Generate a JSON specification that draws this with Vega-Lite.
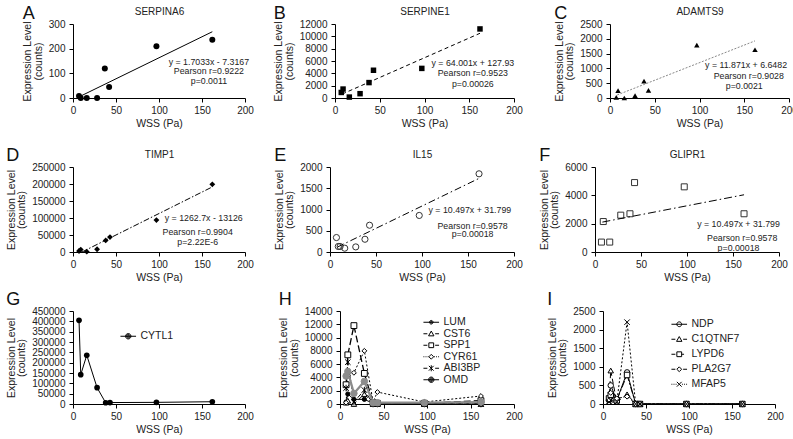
{
"$schema": "https://vega.github.io/schema/vega-lite/v6.json",
"padding": {"left": 6, "top": 5, "right": 2, "bottom": 2},
"config": {
 "font": "Liberation Sans",
 "view": {"stroke": null},
 "axis": {"grid": false, "domainColor": "#000", "tickColor": "#000", "labelColor": "#222", "titleColor": "#222", "labelFontSize": 10, "titleFontSize": 10.5, "titleFontWeight": "normal", "tickSize": 4, "labelPadding": 3, "labelFlush": false, "labelOverlap": false, "domainWidth": 1, "tickWidth": 1},
 "axisY": {"minExtent": 0, "titlePadding": 5, "titleLineHeight": 10.5, "labelPadding": 4},
 "axisX": {"titlePadding": 3},
 "title": {"fontSize": 18, "fontWeight": "normal", "anchor": "start", "frame": "bounds", "color": "#111"},
 "text": {"fontSize": 8.8, "color": "#222"},
 "legend": {"symbolStrokeWidth": 1, "symbolOpacity": 1}
},
"columns": 1,
"align": "none",
"spacing": 18,
"resolve": {"scale": {"shape": "independent"}, "legend": {"shape": "independent"}},
"concat": [
 {"hconcat": [
  {"width": 172, "height": 74, "title": {"text": "A", "offset": -17},
   "layer": [
    {"data": {"values": [{"wss":7,"expr":8},{"wss":9,"expr":0},{"wss":16,"expr":0},{"wss":28,"expr":0},{"wss":37,"expr":120},{"wss":42,"expr":45},{"wss":97,"expr":210},{"wss":162,"expr":236}]},
     "mark": {"type": "point", "shape": "circle", "filled": true, "color": "#000", "size": 36, "opacity": 1},
     "encoding": {"x": {"field":"wss","type":"quantitative","scale":{"domain":[0,200],"nice":false},"axis":{"values":[0,50,100,150,200],"title":"WSS (Pa)"}},
                  "y": {"field":"expr","type":"quantitative","scale":{"domain":[0,300],"nice":false},"axis":{"minExtent":0,"values":[0,100,200,300],"format":"d","title":["Expression Level","(counts)"]}}}},
    {"data": {"values": [{"wss":8,"expr":6.3},{"wss":162,"expr":268.6}]},
     "mark": {"type": "line", "color": "#000", "strokeWidth": 1},
     "encoding": {"x": {"field":"wss","type":"quantitative","scale":{"domain":[0,200],"nice":false},"axis":null},
                  "y": {"field":"expr","type":"quantitative","scale":{"domain":[0,300],"nice":false},"axis":{"minExtent":0,"values":[0,100,200,300],"format":"d","title":["Expression Level","(counts)"]}}}},
    {"data": {"values": [{"wss":158,"expr":147,"label":"y = 1.7033x - 7.3167"},{"wss":158,"expr":109,"label":"Pearson r=0.9222"},{"wss":158,"expr":69,"label":"p=0.0011"}]},
     "mark": {"type": "text"},
     "encoding": {"x": {"field":"wss","type":"quantitative","scale":{"domain":[0,200],"nice":false},"axis":{"orient":"top","title":"SERPINA6","labels":false,"ticks":false,"domain":false,"titlePadding":8,"titleFontSize":10}},
                  "y": {"field":"expr","type":"quantitative","scale":{"domain":[0,300],"nice":false},"axis":{"minExtent":0,"values":[0,100,200,300],"format":"d","title":["Expression Level","(counts)"]}},
                  "text": {"field":"label"}}}
   ],
   "resolve": {"axis": {"x": "independent"}}},
  {"hconcat": [
   {"width": 179, "height": 74, "title": {"text": "B", "offset": -17},
    "layer": [
     {"data": {"values": [{"wss":7,"expr":900},{"wss":9,"expr":1450},{"wss":16,"expr":150},{"wss":28,"expr":700},{"wss":38,"expr":2500},{"wss":43,"expr":4500},{"wss":97,"expr":4800},{"wss":162,"expr":11200}]},
      "mark": {"type": "point", "shape": "square", "filled": true, "color": "#000", "size": 30, "opacity": 1},
      "encoding": {"x": {"field":"wss","type":"quantitative","scale":{"domain":[0,200],"nice":false},"axis":{"values":[0,50,100,150,200],"title":"WSS (Pa)"}},
                   "y": {"field":"expr","type":"quantitative","scale":{"domain":[0,12000],"nice":false},"axis":{"minExtent":0,"values":[0,2000,4000,6000,8000,10000,12000],"format":"d","title":["Expression Level","(counts)"]}}}},
     {"data": {"values": [{"wss":8,"expr":640},{"wss":162,"expr":10496}]},
      "mark": {"type": "line", "color": "#000", "strokeWidth": 1, "strokeDash": [4,3]},
      "encoding": {"x": {"field":"wss","type":"quantitative","scale":{"domain":[0,200],"nice":false},"axis":null},
                   "y": {"field":"expr","type":"quantitative","scale":{"domain":[0,12000],"nice":false},"axis":{"minExtent":0,"values":[0,2000,4000,6000,8000,10000,12000],"format":"d","title":["Expression Level","(counts)"]}}}},
     {"data": {"values": [{"wss":154,"expr":5610,"label":"y = 64.001x + 127.93"},{"wss":154,"expr":4050,"label":"Pearson r=0.9523"},{"wss":154,"expr":2340,"label":"p=0.00026"}]},
      "mark": {"type": "text"},
      "encoding": {"x": {"field":"wss","type":"quantitative","scale":{"domain":[0,200],"nice":false},"axis":{"orient":"top","title":"SERPINE1","labels":false,"ticks":false,"domain":false,"titlePadding":8,"titleFontSize":10}},
                   "y": {"field":"expr","type":"quantitative","scale":{"domain":[0,12000],"nice":false},"axis":{"minExtent":0,"values":[0,2000,4000,6000,8000,10000,12000],"format":"d","title":["Expression Level","(counts)"]}},
                   "text": {"field":"label"}}}
    ],
    "resolve": {"axis": {"x": "independent"}}},
   {"width": 179, "height": 74, "title": {"text": "C", "offset": -17},
    "layer": [
     {"data": {"values": [{"wss":7,"expr":20},{"wss":9,"expr":250},{"wss":16,"expr":0},{"wss":28,"expr":80},{"wss":38,"expr":570},{"wss":43,"expr":260},{"wss":97,"expr":1790},{"wss":162,"expr":1630}]},
      "mark": {"type": "point", "shape": "triangle-up", "filled": true, "color": "#000", "size": 30, "opacity": 1},
      "encoding": {"x": {"field":"wss","type":"quantitative","scale":{"domain":[0,200],"nice":false},"axis":{"values":[0,50,100,150,200],"title":"WSS (Pa)"}},
                   "y": {"field":"expr","type":"quantitative","scale":{"domain":[0,2500],"nice":false},"axis":{"minExtent":0,"values":[0,500,1000,1500,2000,2500],"format":"d","title":["Expression Level","(counts)"]}}}},
     {"data": {"values": [{"wss":8,"expr":101.6},{"wss":162,"expr":1929.7}]},
      "mark": {"type": "line", "color": "#888", "strokeWidth": 1, "strokeDash": [2,1.5]},
      "encoding": {"x": {"field":"wss","type":"quantitative","scale":{"domain":[0,200],"nice":false},"axis":null},
                   "y": {"field":"expr","type":"quantitative","scale":{"domain":[0,2500],"nice":false},"axis":{"minExtent":0,"values":[0,500,1000,1500,2000,2500],"format":"d","title":["Expression Level","(counts)"]}}}},
     {"data": {"values": [{"wss":152,"expr":1118,"label":"y = 11.871x + 6.6482"},{"wss":155,"expr":734,"label":"Pearson r=0.9028"},{"wss":150,"expr":395,"label":"p=0.0021"}]},
      "mark": {"type": "text"},
      "encoding": {"x": {"field":"wss","type":"quantitative","scale":{"domain":[0,200],"nice":false},"axis":{"orient":"top","title":"ADAMTS9","labels":false,"ticks":false,"domain":false,"titlePadding":8,"titleFontSize":10}},
                   "y": {"field":"expr","type":"quantitative","scale":{"domain":[0,2500],"nice":false},"axis":{"minExtent":0,"values":[0,500,1000,1500,2000,2500],"format":"d","title":["Expression Level","(counts)"]}},
                   "text": {"field":"label"}}}
    ],
    "resolve": {"axis": {"x": "independent"}}}
  ], "spacing": 31}
 ], "spacing": 19},
 {"resolve": {"scale": {"shape": "independent"}, "legend": {"shape": "independent"}},
  "vconcat": [
  {"hconcat": [
   {"width": 172, "height": 85, "title": {"text": "D", "offset": -16},
    "layer": [
     {"data": {"values": [{"wss":7,"expr":3000},{"wss":9,"expr":7000},{"wss":16,"expr":1000},{"wss":28,"expr":8000},{"wss":38,"expr":34000},{"wss":43,"expr":44000},{"wss":97,"expr":94000},{"wss":162,"expr":199000}]},
      "mark": {"type": "point", "shape": "diamond", "filled": true, "color": "#000", "size": 34, "opacity": 1},
      "encoding": {"x": {"field":"wss","type":"quantitative","scale":{"domain":[0,200],"nice":false},"axis":{"values":[0,50,100,150,200],"title":"WSS (Pa)"}},
                   "y": {"field":"expr","type":"quantitative","scale":{"domain":[0,250000],"nice":false},"axis":{"minExtent":0,"values":[0,50000,100000,150000,200000,250000],"format":"d","title":["Expression Level","(counts)"]}}}},
     {"data": {"values": [{"wss":10.4,"expr":0},{"wss":162,"expr":191431}]},
      "mark": {"type": "line", "color": "#000", "strokeWidth": 1, "strokeDash": [6,2,1.5,2]},
      "encoding": {"x": {"field":"wss","type":"quantitative","scale":{"domain":[0,200],"nice":false},"axis":null},
                   "y": {"field":"expr","type":"quantitative","scale":{"domain":[0,250000],"nice":false},"axis":{"minExtent":0,"values":[0,50000,100000,150000,200000,250000],"format":"d","title":["Expression Level","(counts)"]}}}},
     {"data": {"values": [{"wss":152,"expr":100000,"label":"y = 1262.7x - 13126"},{"wss":145,"expr":58800,"label":"Pearson r=0.9904"},{"wss":145,"expr":29400,"label":"p=2.22E-6"}]},
      "mark": {"type": "text"},
      "encoding": {"x": {"field":"wss","type":"quantitative","scale":{"domain":[0,200],"nice":false},"axis":{"orient":"top","title":"TIMP1","labels":false,"ticks":false,"domain":false,"titlePadding":8,"titleFontSize":10}},
                   "y": {"field":"expr","type":"quantitative","scale":{"domain":[0,250000],"nice":false},"axis":{"minExtent":0,"values":[0,50000,100000,150000,200000,250000],"format":"d","title":["Expression Level","(counts)"]}},
                   "text": {"field":"label"}}}
    ],
    "resolve": {"axis": {"x": "independent"}}},
   {"hconcat": [
    {"width": 184, "height": 85, "title": {"text": "E", "offset": -16},
     "layer": [
      {"data": {"values": [{"wss":7,"expr":340},{"wss":9,"expr":130},{"wss":11,"expr":130},{"wss":16,"expr":90},{"wss":28,"expr":120},{"wss":38,"expr":300},{"wss":43,"expr":630},{"wss":97,"expr":860},{"wss":162,"expr":1840}]},
       "mark": {"type": "point", "shape": "circle", "filled": false, "color": "#333", "size": 38, "opacity": 1, "strokeWidth": 1},
       "encoding": {"x": {"field":"wss","type":"quantitative","scale":{"domain":[0,200],"nice":false},"axis":{"values":[0,50,100,150,200],"title":"WSS (Pa)"}},
                    "y": {"field":"expr","type":"quantitative","scale":{"domain":[0,2000],"nice":false},"axis":{"minExtent":0,"values":[0,500,1000,1500,2000],"format":"d","title":["Expression Level","(counts)"]}}}},
      {"data": {"values": [{"wss":8,"expr":115.8},{"wss":162,"expr":1732.3}]},
       "mark": {"type": "line", "color": "#000", "strokeWidth": 1, "strokeDash": [7,3,1.5,3]},
       "encoding": {"x": {"field":"wss","type":"quantitative","scale":{"domain":[0,200],"nice":false},"axis":null},
                    "y": {"field":"expr","type":"quantitative","scale":{"domain":[0,2000],"nice":false},"axis":{"minExtent":0,"values":[0,500,1000,1500,2000],"format":"d","title":["Expression Level","(counts)"]}}}},
      {"data": {"values": [{"wss":152,"expr":980,"label":"y = 10.497x + 31.799"},{"wss":155,"expr":620,"label":"Pearson r=0.9578"},{"wss":155,"expr":420,"label":"p=0.00018"}]},
       "mark": {"type": "text"},
       "encoding": {"x": {"field":"wss","type":"quantitative","scale":{"domain":[0,200],"nice":false},"axis":{"orient":"top","title":"IL15","labels":false,"ticks":false,"domain":false,"titlePadding":8,"titleFontSize":10}},
                    "y": {"field":"expr","type":"quantitative","scale":{"domain":[0,2000],"nice":false},"axis":{"minExtent":0,"values":[0,500,1000,1500,2000],"format":"d","title":["Expression Level","(counts)"]}},
                    "text": {"field":"label"}}}
     ],
     "resolve": {"axis": {"x": "independent"}}},
    {"width": 184, "height": 85, "title": {"text": "F", "offset": -16},
     "layer": [
      {"data": {"values": [{"wss":7,"expr":700},{"wss":9,"expr":2150},{"wss":16,"expr":700},{"wss":28,"expr":2600},{"wss":38,"expr":2700},{"wss":43,"expr":4900},{"wss":97,"expr":4600},{"wss":162,"expr":2700}]},
       "mark": {"type": "point", "shape": "square", "filled": false, "color": "#333", "size": 36, "opacity": 1, "strokeWidth": 1},
       "encoding": {"x": {"field":"wss","type":"quantitative","scale":{"domain":[0,200],"nice":false},"axis":{"values":[0,50,100,150,200],"title":"WSS (Pa)"}},
                    "y": {"field":"expr","type":"quantitative","scale":{"domain":[0,6000],"nice":false},"axis":{"minExtent":0,"values":[0,2000,4000,6000],"format":"d","title":["Expression Level","(counts)"]}}}},
      {"data": {"values": [{"wss":8,"expr":2110},{"wss":162,"expr":4040}]},
       "mark": {"type": "line", "color": "#000", "strokeWidth": 1, "strokeDash": [8,3,1.5,3]},
       "encoding": {"x": {"field":"wss","type":"quantitative","scale":{"domain":[0,200],"nice":false},"axis":null},
                    "y": {"field":"expr","type":"quantitative","scale":{"domain":[0,6000],"nice":false},"axis":{"minExtent":0,"values":[0,2000,4000,6000],"format":"d","title":["Expression Level","(counts)"]}}}},
      {"data": {"values": [{"wss":156,"expr":2000,"label":"y = 10.497x + 31.799"},{"wss":160,"expr":1014,"label":"Pearson r=0.9578"},{"wss":156,"expr":296,"label":"p=0.00018"}]},
       "mark": {"type": "text"},
       "encoding": {"x": {"field":"wss","type":"quantitative","scale":{"domain":[0,200],"nice":false},"axis":{"orient":"top","title":"GLIPR1","labels":false,"ticks":false,"domain":false,"titlePadding":8,"titleFontSize":10}},
                    "y": {"field":"expr","type":"quantitative","scale":{"domain":[0,6000],"nice":false},"axis":{"minExtent":0,"values":[0,2000,4000,6000],"format":"d","title":["Expression Level","(counts)"]}},
                    "text": {"field":"label"}}}
     ],
     "resolve": {"axis": {"x": "independent"}}}
   ], "spacing": 16}
  ], "spacing": 20},
  {"resolve": {"scale": {"shape": "independent"}, "legend": {"shape": "independent"}},
   "hconcat": [
   {"width": 172, "height": 93, "title": {"text": "G", "offset": -3},
    "data": {"values": [{"series":"CYTL1","wss":7,"expr":405000},{"series":"CYTL1","wss":9,"expr":142000},{"series":"CYTL1","wss":16,"expr":236000},{"series":"CYTL1","wss":28,"expr":79000},{"series":"CYTL1","wss":38,"expr":6000},{"series":"CYTL1","wss":43,"expr":7000},{"series":"CYTL1","wss":97,"expr":8000},{"series":"CYTL1","wss":162,"expr":11000}]},
    "encoding": {"x": {"field":"wss","type":"quantitative","scale":{"domain":[0,200],"nice":false},"axis":{"values":[0,50,100,150,200],"title":"WSS (Pa)"}},
                 "y": {"field":"expr","type":"quantitative","scale":{"domain":[0,450000],"nice":false},"axis":{"minExtent":0,"values":[0,50000,100000,150000,200000,250000,300000,350000,400000,450000],"format":"d","title":["Expression Level","(counts)"]}}},
    "layer": [
     {"mark": {"type": "line", "color": "#000", "strokeWidth": 1}},
     {"mark": {"type": "point", "shape": "circle", "filled": true, "color": "#000", "size": 32, "opacity": 1}},
     {"transform": [{"filter": "datum.wss < 0"}],
      "mark": {"type": "point", "filled": false, "color": "#000", "opacity": 1, "strokeWidth": 1},
      "encoding": {"shape": {"field": "series", "type": "nominal", "scale": {"domain": ["CYTL1"], "range": ["M-2.6,0H2.6M-0.3,0A0.3,0.3 0 1,0 0.3,0A0.3,0.3 0 1,0 -0.3,0M-0.6,0A0.6,0.6 0 1,0 0.6,0A0.6,0.6 0 1,0 -0.6,0M-0.9,0A0.9,0.9 0 1,0 0.9,0A0.9,0.9 0 1,0 -0.9,0"]},
        "legend": {"orient": "none", "legendX": 50, "legendY": 20, "title": null, "symbolSize": 36, "labelOffset": 7, "labelFontSize": 10.5, "labelColor": "#222", "padding": 0}}}}
    ]},
   {"width": 174, "height": 93, "title": {"text": "H", "offset": -3},
    "data": {"values": [
     {"series":"LUM","wss":7,"expr":300},{"series":"LUM","wss":9,"expr":1500},{"series":"LUM","wss":16,"expr":700},{"series":"LUM","wss":28,"expr":700},{"series":"LUM","wss":38,"expr":100},{"series":"LUM","wss":43,"expr":100},{"series":"LUM","wss":97,"expr":100},{"series":"LUM","wss":162,"expr":200},
     {"series":"CST6","wss":7,"expr":200},{"series":"CST6","wss":9,"expr":500},{"series":"CST6","wss":16,"expr":0},{"series":"CST6","wss":28,"expr":1500},{"series":"CST6","wss":38,"expr":0},{"series":"CST6","wss":43,"expr":0},{"series":"CST6","wss":97,"expr":0},{"series":"CST6","wss":162,"expr":0},
     {"series":"SPP1","wss":7,"expr":2900},{"series":"SPP1","wss":9,"expr":7400},{"series":"SPP1","wss":16,"expr":11800},{"series":"SPP1","wss":28,"expr":4600},{"series":"SPP1","wss":38,"expr":200},{"series":"SPP1","wss":43,"expr":100},{"series":"SPP1","wss":97,"expr":100},{"series":"SPP1","wss":162,"expr":500},
     {"series":"CYR61","wss":7,"expr":200},{"series":"CYR61","wss":9,"expr":4300},{"series":"CYR61","wss":16,"expr":4700},{"series":"CYR61","wss":28,"expr":8000},{"series":"CYR61","wss":38,"expr":300},{"series":"CYR61","wss":43,"expr":1800},{"series":"CYR61","wss":97,"expr":300},{"series":"CYR61","wss":162,"expr":1200},
     {"series":"ABI3BP","wss":7,"expr":2400},{"series":"ABI3BP","wss":9,"expr":6300},{"series":"ABI3BP","wss":16,"expr":300},{"series":"ABI3BP","wss":28,"expr":2100},{"series":"ABI3BP","wss":38,"expr":0},{"series":"ABI3BP","wss":43,"expr":0},{"series":"ABI3BP","wss":97,"expr":0},{"series":"ABI3BP","wss":162,"expr":0},
     {"series":"OMD","wss":7,"expr":4200},{"series":"OMD","wss":9,"expr":4900},{"series":"OMD","wss":16,"expr":1600},{"series":"OMD","wss":28,"expr":3400},{"series":"OMD","wss":38,"expr":200},{"series":"OMD","wss":43,"expr":200},{"series":"OMD","wss":97,"expr":200},{"series":"OMD","wss":162,"expr":300}]},
    "encoding": {"x": {"field":"wss","type":"quantitative","scale":{"domain":[0,200],"nice":false},"axis":{"values":[0,50,100,150,200],"title":"WSS (Pa)"}},
                 "y": {"field":"expr","type":"quantitative","scale":{"domain":[0,14000],"nice":false},"axis":{"minExtent":0,"values":[0,2000,4000,6000,8000,10000,12000,14000],"format":"d","title":["Expression Level","(counts)"]}}},
    "layer": [
     {"transform": [{"filter": "datum.series === 'LUM'"}], "mark": {"type": "line", "color": "#000", "strokeWidth": 1}},
     {"transform": [{"filter": "datum.series === 'CST6'"}], "mark": {"type": "line", "color": "#000", "strokeWidth": 1, "strokeDash": [5,3]}},
     {"transform": [{"filter": "datum.series === 'SPP1'"}], "mark": {"type": "line", "color": "#000", "strokeWidth": 1.3, "strokeDash": [7,3]}},
     {"transform": [{"filter": "datum.series === 'CYR61'"}], "mark": {"type": "line", "color": "#000", "strokeWidth": 1, "strokeDash": [2,2]}},
     {"transform": [{"filter": "datum.series === 'ABI3BP'"}], "mark": {"type": "line", "color": "#000", "strokeWidth": 1, "strokeDash": [5,3]}},
     {"transform": [{"filter": "datum.series === 'OMD'"}], "mark": {"type": "line", "color": "#8c8c8c", "strokeWidth": 2.2}},
     {"transform": [{"filter": "datum.series === 'LUM'"}], "mark": {"type": "point", "shape": "circle", "fill": "#000", "stroke": "#000", "strokeWidth": 1, "size": 18, "opacity": 1}},
     {"transform": [{"filter": "datum.series === 'CST6'"}], "mark": {"type": "point", "shape": "triangle-up", "fill": "#fff", "stroke": "#000", "strokeWidth": 1, "size": 30, "opacity": 1}},
     {"transform": [{"filter": "datum.series === 'SPP1'"}], "mark": {"type": "point", "shape": "square", "fill": "#fff", "stroke": "#000", "strokeWidth": 1, "size": 34, "opacity": 1}},
     {"transform": [{"filter": "datum.series === 'CYR61'"}], "mark": {"type": "point", "shape": "diamond", "fill": "#fff", "stroke": "#000", "strokeWidth": 1, "size": 24, "opacity": 1}},
     {"transform": [{"filter": "datum.series === 'ABI3BP'"}], "mark": {"type": "point", "shape": "M-1,-1L1,1M-1,1L1,-1M0,-1.2V1.2", "fill": "transparent", "stroke": "#000", "strokeWidth": 1, "size": 30, "opacity": 1}},
     {"transform": [{"filter": "datum.series === 'OMD'"}], "mark": {"type": "point", "shape": "circle", "fill": "#8c8c8c", "stroke": "#8c8c8c", "strokeWidth": 1, "size": 42, "opacity": 1}},
     {"transform": [{"filter": "datum.wss < 0"}],
      "mark": {"type": "point", "filled": false, "color": "#000", "opacity": 1, "strokeWidth": 1},
      "encoding": {
        "shape": {"field":"series","type":"nominal","scale":{"domain":["LUM","CST6","SPP1","CYR61","ABI3BP","OMD"],"range":[
          "M-2.6,0H2.6M-0.3,0A0.3,0.3 0 1,0 0.3,0A0.3,0.3 0 1,0 -0.3,0M-0.6,0A0.6,0.6 0 1,0 0.6,0A0.6,0.6 0 1,0 -0.6,0",
          "M-2.6,0H-1.3M1.3,0H2.6M0,-0.9L0.9,0.7L-0.9,0.7Z",
          "M-2.6,0H-1.3M1.3,0H2.6M-0.8,-0.8H0.8V0.8H-0.8Z",
          "M-2.6,0H-2.3M-1.9,0H-1.6M-1.2,0H-0.9M0.9,0H1.2M1.6,0H1.9M2.3,0H2.6M0,-0.8L0.8,0L0,0.8L-0.8,0Z",
          "M-2.6,0H-1.3M1.3,0H2.6M-0.8,-0.8L0.8,0.8M-0.8,0.8L0.8,-0.8M0,-1V1",
          "M-2.6,0H2.6M-0.3,0A0.3,0.3 0 1,0 0.3,0A0.3,0.3 0 1,0 -0.3,0M-0.6,0A0.6,0.6 0 1,0 0.6,0A0.6,0.6 0 1,0 -0.6,0M-0.9,0A0.9,0.9 0 1,0 0.9,0A0.9,0.9 0 1,0 -0.9,0"]},
          "legend": {"orient": "none", "legendX": 86, "legendY": 6, "title": null, "symbolSize": 36, "labelOffset": 7, "labelFontSize": 10.5, "labelColor": "#222", "padding": 0, "rowPadding": 0.5}}}}
    ]},
   {"width": 172, "height": 93, "title": {"text": "I", "offset": -3},
    "data": {"values": [
     {"series":"NDP","wss":7,"expr":100},{"series":"NDP","wss":9,"expr":500},{"series":"NDP","wss":16,"expr":100},{"series":"NDP","wss":28,"expr":850},{"series":"NDP","wss":38,"expr":0},{"series":"NDP","wss":43,"expr":0},{"series":"NDP","wss":97,"expr":0},{"series":"NDP","wss":162,"expr":0},
     {"series":"C1QTNF7","wss":7,"expr":50},{"series":"C1QTNF7","wss":9,"expr":900},{"series":"C1QTNF7","wss":16,"expr":50},{"series":"C1QTNF7","wss":28,"expr":260},{"series":"C1QTNF7","wss":38,"expr":0},{"series":"C1QTNF7","wss":43,"expr":0},{"series":"C1QTNF7","wss":97,"expr":0},{"series":"C1QTNF7","wss":162,"expr":0},
     {"series":"LYPD6","wss":7,"expr":150},{"series":"LYPD6","wss":9,"expr":250},{"series":"LYPD6","wss":16,"expr":100},{"series":"LYPD6","wss":28,"expr":780},{"series":"LYPD6","wss":38,"expr":0},{"series":"LYPD6","wss":43,"expr":0},{"series":"LYPD6","wss":97,"expr":0},{"series":"LYPD6","wss":162,"expr":0},
     {"series":"PLA2G7","wss":7,"expr":100},{"series":"PLA2G7","wss":9,"expr":300},{"series":"PLA2G7","wss":16,"expr":150},{"series":"PLA2G7","wss":28,"expr":200},{"series":"PLA2G7","wss":38,"expr":0},{"series":"PLA2G7","wss":43,"expr":0},{"series":"PLA2G7","wss":97,"expr":0},{"series":"PLA2G7","wss":162,"expr":0},
     {"series":"MFAP5","wss":7,"expr":50},{"series":"MFAP5","wss":9,"expr":100},{"series":"MFAP5","wss":16,"expr":50},{"series":"MFAP5","wss":28,"expr":2200},{"series":"MFAP5","wss":38,"expr":0},{"series":"MFAP5","wss":43,"expr":0},{"series":"MFAP5","wss":97,"expr":0},{"series":"MFAP5","wss":162,"expr":0}]},
    "encoding": {"x": {"field":"wss","type":"quantitative","scale":{"domain":[0,200],"nice":false},"axis":{"values":[0,50,100,150,200],"title":"WSS (Pa)"}},
                 "y": {"field":"expr","type":"quantitative","scale":{"domain":[0,2500],"nice":false},"axis":{"minExtent":0,"values":[0,500,1000,1500,2000,2500],"format":"d","title":["Expression Level","(counts)"]}}},
    "layer": [
     {"transform": [{"filter": "datum.series === 'NDP'"}], "mark": {"type": "line", "color": "#000", "strokeWidth": 1}},
     {"transform": [{"filter": "datum.series === 'C1QTNF7'"}], "mark": {"type": "line", "color": "#000", "strokeWidth": 1, "strokeDash": [5,3]}},
     {"transform": [{"filter": "datum.series === 'LYPD6'"}], "mark": {"type": "line", "color": "#000", "strokeWidth": 1, "strokeDash": [7,2,2,2]}},
     {"transform": [{"filter": "datum.series === 'PLA2G7'"}], "mark": {"type": "line", "color": "#000", "strokeWidth": 1, "strokeDash": [5,3]}},
     {"transform": [{"filter": "datum.series === 'MFAP5'"}], "mark": {"type": "line", "color": "#000", "strokeWidth": 1, "strokeDash": [2,2]}},
     {"transform": [{"filter": "datum.series === 'NDP'"}], "mark": {"type": "point", "shape": "circle", "fill": "#fff", "stroke": "#000", "strokeWidth": 1, "size": 30, "opacity": 1}},
     {"transform": [{"filter": "datum.series === 'C1QTNF7'"}], "mark": {"type": "point", "shape": "triangle-up", "fill": "#fff", "stroke": "#000", "strokeWidth": 1, "size": 30, "opacity": 1}},
     {"transform": [{"filter": "datum.series === 'LYPD6'"}], "mark": {"type": "point", "shape": "square", "fill": "#fff", "stroke": "#000", "strokeWidth": 1, "size": 30, "opacity": 1}},
     {"transform": [{"filter": "datum.series === 'PLA2G7'"}], "mark": {"type": "point", "shape": "diamond", "fill": "#fff", "stroke": "#000", "strokeWidth": 1, "size": 26, "opacity": 1}},
     {"transform": [{"filter": "datum.series === 'MFAP5'"}], "mark": {"type": "point", "shape": "M-1,-1L1,1M-1,1L1,-1", "fill": "transparent", "stroke": "#000", "strokeWidth": 1, "size": 30, "opacity": 1}},
     {"transform": [{"filter": "datum.wss < 0"}],
      "mark": {"type": "point", "filled": false, "color": "#000", "opacity": 1, "strokeWidth": 1},
      "encoding": {
        "shape": {"field":"series","type":"nominal","scale":{"domain":["NDP","C1QTNF7","LYPD6","PLA2G7","MFAP5"],"range":[
          "M-2.6,0H2.6M-0.8,0A0.8,0.8 0 1,0 0.8,0A0.8,0.8 0 1,0 -0.8,0Z",
          "M-2.6,0H-1.3M1.3,0H2.6M0,-0.9L0.9,0.7L-0.9,0.7Z",
          "M-2.6,0H-1.3M-0.8,-0.8H0.8V0.8H-0.8ZM0.8,0H1.6",
          "M-2.6,0H-1.3M1.3,0H2.6M0,-0.8L0.8,0L0,0.8L-0.8,0Z",
          "M-2.6,0H-2.3M-1.9,0H-1.6M-1.2,0H-0.9M0.9,0H1.2M1.6,0H1.9M2.3,0H2.6M-0.8,-0.8L0.8,0.8M-0.8,0.8L0.8,-0.8"]},
          "legend": {"orient": "none", "legendX": 71, "legendY": 8, "title": null, "symbolSize": 36, "labelOffset": 7, "labelFontSize": 10.5, "labelColor": "#222", "padding": 0, "rowPadding": 4}}}}
    ]}
  ], "spacing": 24}
 ], "spacing": 8}
]
}
